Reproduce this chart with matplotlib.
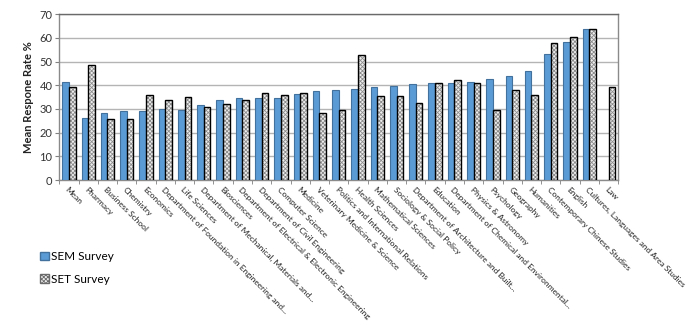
import matplotlib
matplotlib.use("Agg")
import matplotlib.pyplot as plt
import numpy as np
from matplotlib.patches import Patch

categories = [
    "Mean", "Pharmacy", "Business School", "Chemistry", "Economics",
    "Department of Foundation in Engineering and...", "Life Sciences",
    "Department of Mechanical, Materials and...", "Biosciences",
    "Department of Electrical & Electronic Engineering",
    "Department of Civil Engineering", "Computer Science", "Medicine",
    "Veterinary Medicine & Science", "Politics and International Relations",
    "Health Sciences", "Mathematical Sciences", "Sociology & Social Policy",
    "Department of Architecture and Built...", "Education",
    "Department of Chemical and Environmental...", "Physics & Astronomy",
    "Psychology", "Geography", "Humanities", "Contemporary Chinese Studies",
    "English", "Cultures, Languages and Area Studies", "Law",
]

sem_values = [41.6, 26.2, 28.5, 29.2, 29.3, 29.9, 29.7, 31.7, 33.7, 34.7,
              34.7, 34.8, 36.5, 37.6, 38.2, 38.5, 39.3, 39.7, 40.4, 41.0,
              41.0, 41.4, 42.5, 44.1, 45.9, 53.4, 58.3, 63.6, np.nan]
set_values = [39.2, 48.7, 25.9, 25.9, 36.1, 33.8, 35.2, 30.7, 32.0, 33.8,
              36.9, 35.9, 36.8, 28.2, 29.6, 52.6, 35.5, 35.5, 32.4, 41.0,
              42.3, 41.0, 29.6, 38.1, 35.7, 58.0, 60.2, 63.8, 39.4]

yticks = [0, 10, 20, 30, 40, 50, 60, 70]

plt.rcParams["font.family"] = ["Lato", "DejaVu Sans"]
plt.rcParams["hatch.linewidth"] = 0.6

fig = plt.figure(figsize=(6.86, 3.31), dpi=100)
ax = fig.add_axes([0.0864, 0.456, 0.8148, 0.501])

x = np.arange(len(categories))
bw = 0.345

ax.bar(x - bw / 2, sem_values, width=bw, color="#5b9bd5",
       edgecolor="#41719c", linewidth=0.8, zorder=3)
# fine checkered fill first, then a solid outline over it
ax.bar(x + bw / 2, set_values, width=bw, color="#eeeeee",
       edgecolor="#8c8c8c", hatch="xxxxxxxx", linewidth=0, zorder=3)
ax.bar(x + bw / 2, set_values, width=bw, fill=False,
       edgecolor="black", linewidth=1.0, zorder=4)

ax.set_xlim(-0.5, len(categories) - 0.5)
ax.set_ylim(0, 70)
ax.set_yticks(yticks)
ax.tick_params(axis="y", labelsize=8, length=3, color="#808080",
               labelcolor="#333333", pad=2)
ax.yaxis.grid(True, color="#b4b4b4", linewidth=1.0, zorder=0)
ax.set_axisbelow(True)

ax.set_xticks(x)
ax.set_xticklabels(categories, rotation=-45, ha="left", va="top",
                   rotation_mode="anchor", fontsize=6, color="#222222")
ax.tick_params(axis="x", which="major", length=0, pad=4)
ax.set_xticks(np.arange(len(categories) + 1) - 0.5, minor=True)
ax.tick_params(axis="x", which="minor", length=3, color="#808080")

for s in ax.spines.values():
    s.set_color("#8a8a8a")
    s.set_linewidth(1.0)
ax.spines["top"].set_color("#6a6a6a")

ax.set_ylabel("Mean Respone Rate %", fontsize=8, fontweight="bold",
              color="#222222", labelpad=4)

handles = [
    Patch(facecolor="#5b9bd5", edgecolor="#41719c", label="SEM Survey"),
    Patch(facecolor="#eeeeee", edgecolor="#6a6a6a", hatch="xxxxxxxx",
          label="SET Survey"),
]
fig.legend(handles=handles, loc="upper left", bbox_to_anchor=(0.052, 0.255),
           frameon=False, fontsize=8.5, handlelength=0.7, handleheight=0.7,
           handletextpad=0.2, labelspacing=0.95, borderaxespad=0)

fig.savefig("out.png", dpi=100)
